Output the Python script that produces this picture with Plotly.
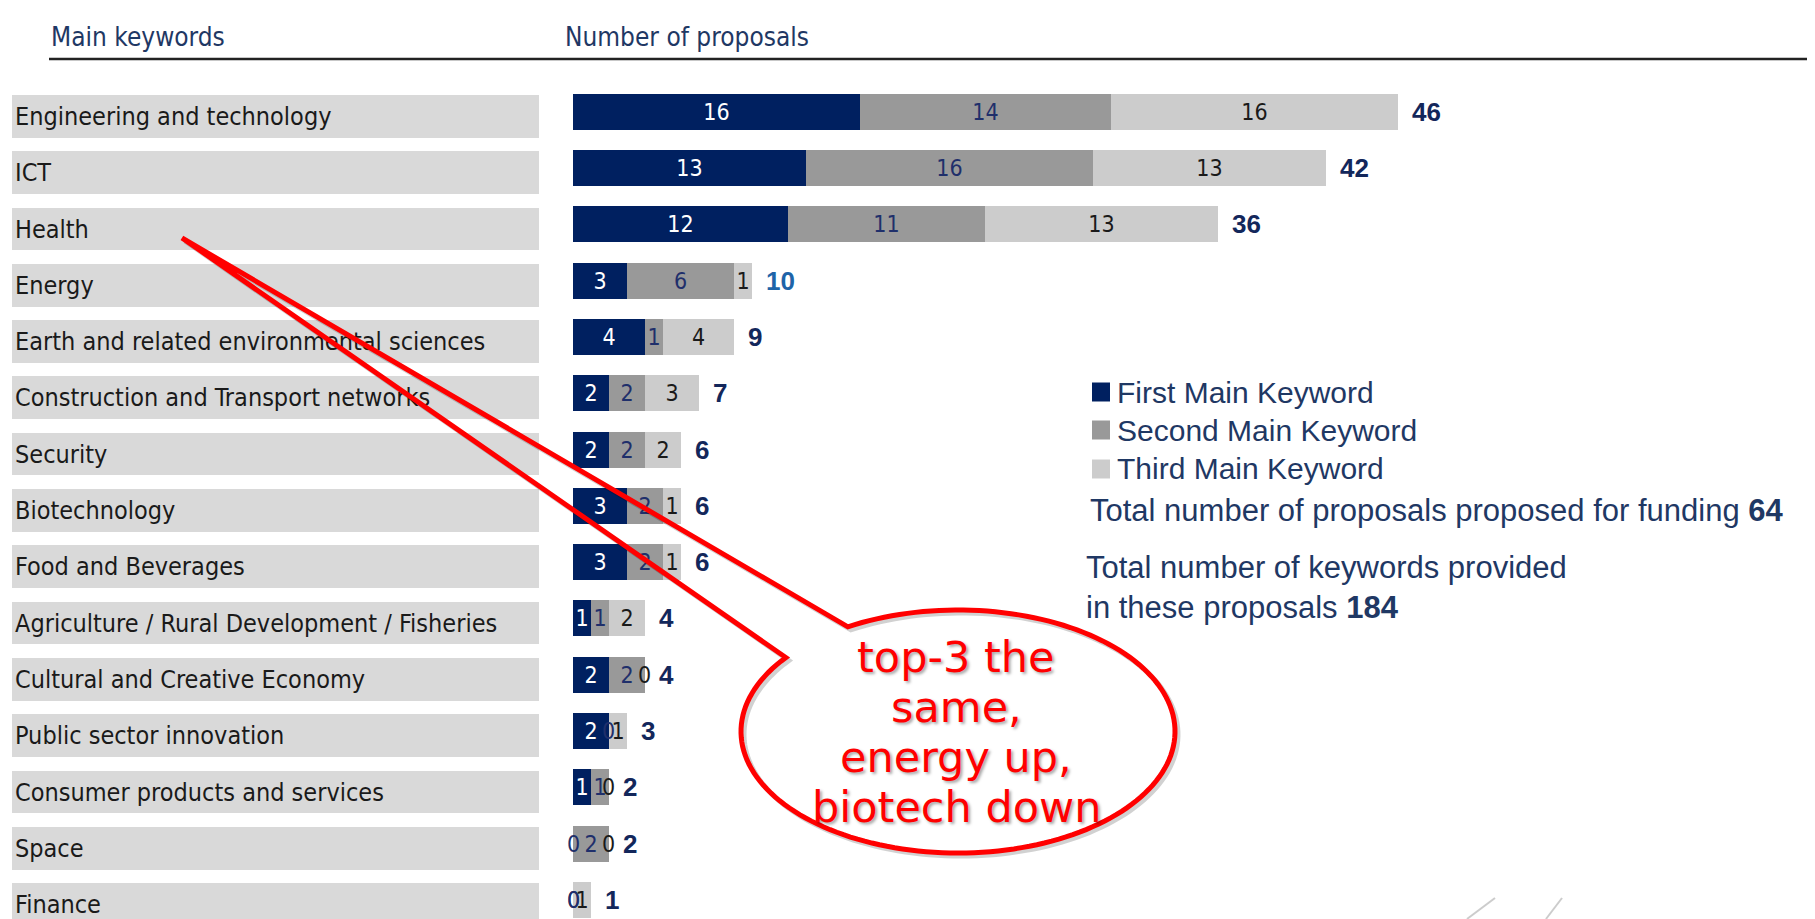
import numpy as np
import plotly.graph_objects as go

# data
categories = ["Engineering and technology", "ICT", "Health", "Energy",
              "Earth and related environmental sciences",
              "Construction and Transport networks", "Security", "Biotechnology",
              "Food and Beverages", "Agriculture / Rural Development / Fisheries",
              "Cultural and Creative Economy", "Public sector innovation",
              "Consumer products and services", "Space", "Finance"]
first_kw = [16, 13, 12, 3, 4, 2, 2, 3, 3, 1, 2, 2, 1, 0, 0]
second_kw = [14, 16, 11, 6, 1, 2, 2, 2, 2, 1, 2, 0, 1, 2, 0]
third_kw = [16, 13, 13, 1, 4, 3, 2, 1, 1, 2, 0, 1, 0, 0, 1]
series_names = ["First Main Keyword", "Second Main Keyword", "Third Main Keyword"]
total_proposals = 64
total_keywords = 184
callout_lines = ["top-3 the", "same,", "energy up,", "biotech down"]

# style
W, H = 1815, 919
OFF = 8                        # page body margin around the plot div
NAVY = "#002060"
seg_colors = [NAVY, "#999999", "#CCCCCC"]
seg_text = ["#FFFFFF", "#1F2F6B", "#1A1A1A"]
COND = "DejaVu Sans Condensed, Liberation Sans Narrow, sans-serif"
SANS = "Liberation Sans, Arial, sans-serif"
TXT = "#1F3864"
total_colors = {"Energy": "#1E64A8"}

ROW0, PITCH = 116.3, 56.3      # page px centre of first row, row pitch
BAR_X0, UNIT = 573, 17.93      # page px start of bars, px per proposal
BAR_SHIFT = 0.081              # bars sit a little above the label bands


# page pixel -> paper coords
def px(x):
    return (x - OFF) / W


def py(y):
    return 1 - (y - OFF) / H


n = len(categories)
ypos = list(range(n))
series = [first_kw, second_kw, third_kw]
totals = [a + b + c for a, b, c in zip(*series)]

fig = go.Figure()

# grey label bands with the keyword names
fig.add_trace(go.Bar(
    x=[1] * n, y=ypos, orientation="h", xaxis="x2", yaxis="y",
    marker=dict(color="#D9D9D9", line_width=0), width=0.76, offset=-0.38,
    text=categories, textposition="inside", insidetextanchor="start",
    textangle=0, constraintext="none",
    textfont=dict(family=COND, size=25, color="#1A1A1A"),
    hoverinfo="skip", showlegend=False))

# stacked keyword bars
for vals, name, col, tcol in zip(series, series_names, seg_colors, seg_text):
    fig.add_trace(go.Bar(
        x=vals, y=ypos, orientation="h", name=name,
        marker=dict(color=col, line_width=0), width=0.638, offset=-0.40,
        text=[str(v) for v in vals], textposition="inside",
        insidetextanchor="middle", textangle=0, constraintext="none",
        textfont=dict(family=COND, size=23, color=tcol),
        showlegend=False))

annotations = []
# zero segments still carry their "0" label in the original
cum = np.zeros(n)
for vals, tcol in zip(series, seg_text):
    for i, v in enumerate(vals):
        if v == 0:
            annotations.append(dict(
                x=cum[i], y=i - BAR_SHIFT, xref="x", yref="y", text="0",
                showarrow=False, xanchor="center", yanchor="middle",
                font=dict(family=COND, size=23,
                          color=tcol if tcol != "#FFFFFF" else "#1F2F6B")))
    cum += np.array(vals)

# totals at bar ends
for i, (cat, t) in enumerate(zip(categories, totals)):
    annotations.append(dict(
        x=t, y=i - BAR_SHIFT, xref="x", yref="y", text=f"<b>{t}</b>",
        showarrow=False, xanchor="left", yanchor="middle", xshift=12,
        font=dict(family=SANS, size=26, color=total_colors.get(cat, "#13275B"))))

# headers
annotations.append(dict(x=px(49), y=py(37), xref="paper", yref="paper",
                        text="Main keywords", showarrow=False, xanchor="left",
                        yanchor="middle", font=dict(family=COND, size=26, color=TXT)))
annotations.append(dict(x=px(563), y=py(37), xref="paper", yref="paper",
                        text="Number of proposals", showarrow=False, xanchor="left",
                        yanchor="middle", font=dict(family=COND, size=26, color=TXT)))

shapes = [
    dict(type="line", xref="paper", yref="paper", x0=px(49), x1=1,
         y0=py(59), y1=py(59), line=dict(color="#222222", width=2.5)),
]

# legend drawn by hand
leg_y = [392, 430, 469]
for name, col, yy in zip(series_names, seg_colors, leg_y):
    shapes.append(dict(type="rect", xref="paper", yref="paper",
                       x0=px(1092), x1=px(1110), y0=py(yy - 9.5), y1=py(yy + 9.5),
                       fillcolor=col, line_width=0))
    annotations.append(dict(x=px(1115), y=py(yy), xref="paper", yref="paper",
                            text=name, showarrow=False, xanchor="left",
                            yanchor="middle", font=dict(family=SANS, size=30, color=TXT)))

annotations.append(dict(
    x=px(1088), y=py(510), xref="paper", yref="paper",
    text=f"Total number of proposals proposed for funding <b>{total_proposals}</b>",
    showarrow=False, xanchor="left", yanchor="middle",
    font=dict(family=SANS, size=31, color=TXT)))
annotations.append(dict(
    x=px(1084), y=py(587), xref="paper", yref="paper",
    text=f"Total number of keywords provided<br>in these proposals <b>{total_keywords}</b>",
    showarrow=False, xanchor="left", yanchor="middle", align="left",
    font=dict(family=SANS, size=31, color=TXT)))

# red callout bubble pointing at Health
tip = (182, 238)
cx, cy, rx, ry = 958, 731.5, 217, 121.5
th = np.radians(np.linspace(-120.5, 217.5, 160))
ex, ey = cx + rx * np.cos(th), cy + ry * np.sin(th)


def bubble_path(dx=0, dy=0):
    pts = [(tip[0] + dx, tip[1] + dy)] + [(a + dx, b + dy) for a, b in zip(ex, ey)]
    return "M " + " L ".join(f"{px(a):.5f},{py(b):.5f}" for a, b in pts) + " Z"


shapes.append(dict(type="path", xref="paper", yref="paper", path=bubble_path(3, 3),
                   line=dict(color="rgba(0,0,0,0.18)", width=5), layer="above"))
shapes.append(dict(type="path", xref="paper", yref="paper", path=bubble_path(),
                   line=dict(color="#FF0000", width=5), layer="above"))

for k, line in enumerate(callout_lines):
    annotations.append(dict(
        x=px(956), y=py(657 + 50 * k), xref="paper", yref="paper", text=line,
        showarrow=False, xanchor="center", yanchor="middle",
        font=dict(family="DejaVu Sans", size=43, color="#FF0000",
                  shadow="2px 2px 3px rgba(0,0,0,0.35)")))

# faint logo strokes bottom right
for x0, x1 in [(1467, 1495), (1546, 1562)]:
    shapes.append(dict(type="line", xref="paper", yref="paper",
                       x0=px(x0), x1=px(x1), y0=py(919), y1=py(898),
                       line=dict(color="rgba(170,170,170,0.6)", width=2)))

fig.update_layout(
    width=W, height=H, margin=dict(l=0, r=0, t=0, b=0),
    paper_bgcolor="white", plot_bgcolor="rgba(0,0,0,0)",
    barmode="stack", bargap=0,
    xaxis=dict(domain=[px(BAR_X0), 1], range=[0, (W + OFF - BAR_X0) / UNIT],
               visible=False, fixedrange=True),
    xaxis2=dict(domain=[px(12), px(539)], range=[0, 1], visible=False,
                anchor="y", fixedrange=True),
    yaxis=dict(range=[(H - (ROW0 - OFF)) / PITCH, -(ROW0 - OFF) / PITCH],
               visible=False, fixedrange=True),
    annotations=annotations, shapes=shapes,
)

fig.write_html("out.html")
